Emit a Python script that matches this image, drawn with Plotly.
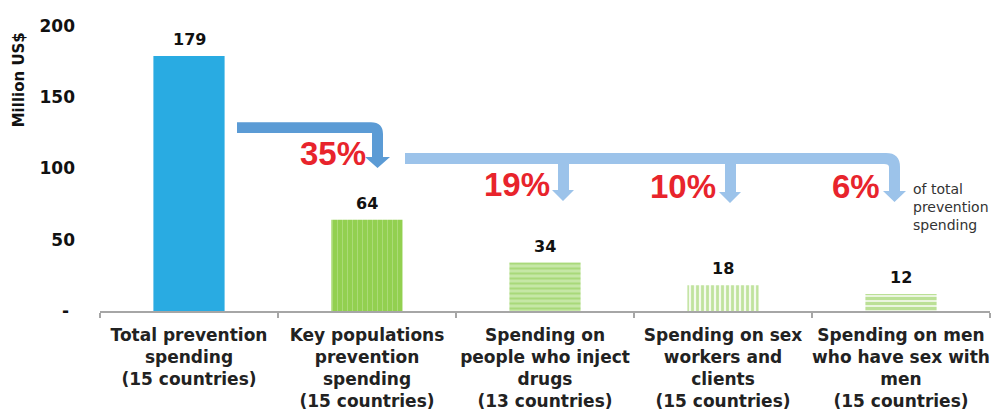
import plotly.graph_objects as go

categories = [
    "Total prevention<br>spending<br>(15 countries)",
    "Key populations<br>prevention<br>spending<br>(15 countries)",
    "Spending on<br>people who inject<br>drugs<br>(13 countries)",
    "Spending on sex<br>workers and<br>clients<br>(15 countries)",
    "Spending on men<br>who have sex with<br>men<br>(15 countries)",
]
values = [179, 64, 34, 18, 12]
shares = ["35%", "19%", "10%", "6%"]
y_ticks = [0, 50, 100, 150, 200]
y_tick_labels = ["-\u00a0", "50", "100", "150", "200"]

FONT = "DejaVu Sans, Verdana, sans-serif"
AFONT = "Liberation Sans, Arial, sans-serif"
W, H = 995, 414
# plot area in page pixels
PL, PR, PT, PB = 100, 990, 25.5, 311.5
L, T = PL, PT
R = W - PR
B = H - PB
PW = PR - PL
PH = PB - PT
YMAX = 200
n = len(categories)

def px2x(px):
    return (px - PL) / (PW / n) - 0.5

def py2y(py):
    return (PB - py) / (PH / YMAX)

def path(points):
    s = ""
    for i, p in enumerate(points):
        if p[0] == "Q":
            _, cx, cy, ex, ey = p
            s += f" Q {px2x(cx):.4f},{py2y(cy):.4f} {px2x(ex):.4f},{py2y(ey):.4f}"
        else:
            s += (" M " if i == 0 else " L ") + f"{px2x(p[0]):.4f},{py2y(p[1]):.4f}"
    return s + " Z"

fig = go.Figure()

xs = list(range(n))
pattern_specs = [
    None,
    dict(shape="|", fgcolor="rgba(255,255,255,0.45)", bgcolor="#92D050", size=5, solidity=0.2),
    dict(shape="-", fgcolor="#8CCB4E", bgcolor="#C6E7A6", size=5, solidity=0.4),
    dict(shape="|", fgcolor="#8CCB4E", bgcolor="#F4FAEE", size=5, solidity=0.55),
    dict(shape="-", fgcolor="#8CCB4E", bgcolor="#EAF5DF", size=5, solidity=0.6),
]
colors = ["#29ABE2", "#92D050", "#C6E7A6", "#F4FAEE", "#EAF5DF"]
for i in xs:
    marker = dict(color=colors[i], line=dict(width=0))
    if pattern_specs[i]:
        marker["pattern"] = pattern_specs[i]
    fig.add_trace(go.Bar(x=[i], y=[values[i]], width=0.4, marker=marker,
                         showlegend=False, hoverinfo="skip"))
    fig.add_annotation(x=i, y=values[i], text=f"<b>{values[i]}</b>", showarrow=False,
                       yanchor="bottom", yshift=5,
                       font=dict(family=FONT, size=16, color="#111"))

# arrows (page-pixel geometry converted to data units)
solid_blue = "#5B9BD5"
light_blue = "#9CC3EA"
a1 = [(237, 122), (371, 122), ("Q", 383, 122, 383, 134), (383, 157), (390, 157),
      (377.5, 168), (365, 157), (372, 157), (372, 133), (237, 133)]
fig.add_shape(type="path", path=path(a1), xref="x", yref="y",
              fillcolor=solid_blue, line=dict(width=0), layer="above")

a2 = [(405, 153), (886, 153), ("Q", 900, 153, 900, 167), (900, 191), (906, 191),
      (894.5, 202), (883, 191), (889, 191), (889, 167), ("Q", 889, 164, 884, 164),
      (736, 164), (736, 192), (741, 192), (730, 203), (719, 192), (725, 192),
      (725, 164),
      (569, 164), (569, 190), (574, 190), (563, 201), (552, 190), (558, 190),
      (558, 164), (405, 164)]
fig.add_shape(type="path", path=path(a2), xref="x", yref="y",
              fillcolor=light_blue, line=dict(width=0), layer="above")

pct_pos = [(333, 153), (517, 185), (683, 187), (856, 187)]
for s, (cx, cy) in zip(shares, pct_pos):
    fig.add_annotation(x=px2x(cx), y=py2y(cy), text=f"<b>{s}</b>", showarrow=False,
                       xanchor="center", yanchor="middle",
                       font=dict(family=AFONT, size=33, color="#E8242C"))

fig.add_annotation(x=px2x(911), y=py2y(207), text="of total<br>prevention<br>spending",
                   showarrow=False, xanchor="left", yanchor="middle", align="left",
                   font=dict(family=FONT, size=14, color="#333"))

fig.add_annotation(xref="paper", x=(19 - PL) / PW, y=py2y(80), text="<b>Million US$</b>",
                   textangle=-90, showarrow=False, xanchor="center", yanchor="middle",
                   font=dict(family=FONT, size=15, color="#111"))

fig.update_layout(
    width=W, height=H,
    margin=dict(l=L, r=R, t=T, b=B),
    paper_bgcolor="white", plot_bgcolor="white",
    bargap=0.6,
    font=dict(family=FONT),
    hovermode=False,
    xaxis=dict(
        range=[-0.5, n - 0.5],
        tickvals=xs,
        ticktext=[f"<b>{c}</b>" for c in categories],
        ticks="", showgrid=False, zeroline=False,
        showline=True, linecolor="#A6A6A6", linewidth=1.5,
        tickfont=dict(family=FONT, size=17, color="#222"),
        ticklabelstandoff=8,
        minor=dict(tick0=-0.5, dtick=1, ticks="outside", ticklen=5,
                   tickcolor="#A6A6A6", tickwidth=1.5, showgrid=False),
        automargin=False,
        fixedrange=True,
    ),
    yaxis=dict(
        range=[0, YMAX],
        tickvals=y_ticks,
        ticktext=[f"<b>{t}</b>" for t in y_tick_labels],
        showgrid=False, zeroline=False, showline=False, ticks="",
        ticklabelstandoff=24,
        tickfont=dict(family=FONT, size=17, color="#111"),
        automargin=False,
        fixedrange=True,
    ),
)

fig.write_html(
    "out.html",
    config={"displayModeBar": False, "staticPlot": True},
    post_script="document.body.style.margin='0';document.body.style.overflow='hidden';",
)
